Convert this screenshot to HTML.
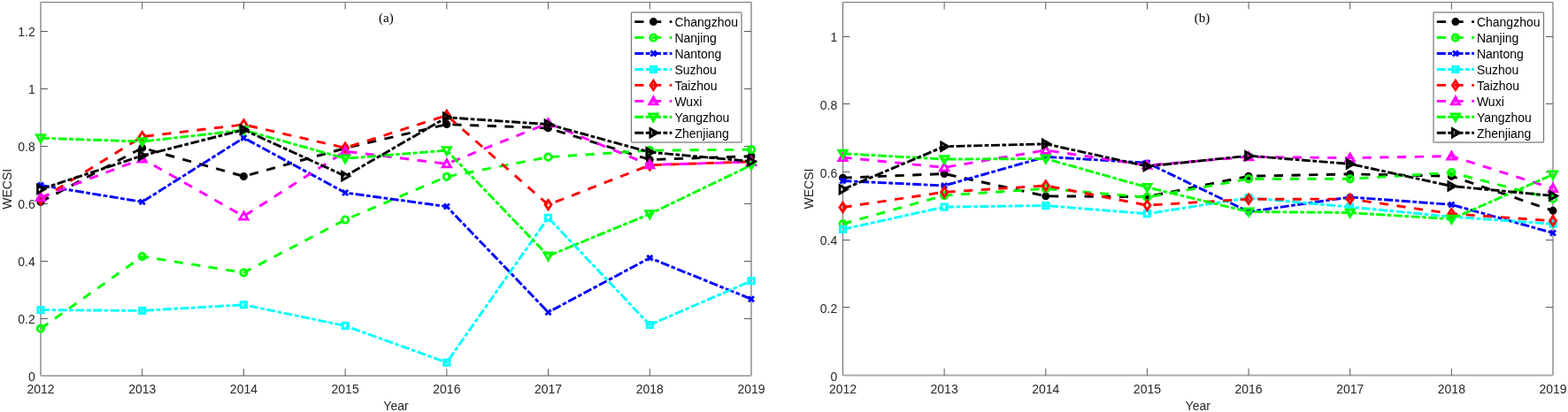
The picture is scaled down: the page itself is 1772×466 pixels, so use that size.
<!DOCTYPE html>
<html><head><meta charset="utf-8"><title>WECSI</title>
<style>
html,body{margin:0;padding:0;background:#fff;}
body{width:1772px;height:466px;overflow:hidden;}
svg{display:block;}
.t{font-family:"Liberation Sans",Arial,sans-serif;font-size:14px;fill:#262626;}
.lg{font-family:"Liberation Sans",Arial,sans-serif;font-size:14px;fill:#000;}
.ttl{font-family:"Liberation Serif","Times New Roman",serif;font-size:15px;fill:#000;}
</style></head>
<body>
<svg width="1772" height="466" viewBox="0 0 1772 466">
<rect width="1772" height="466" fill="#fff"/>
<clipPath id="clip0"><rect x="46.0" y="2.5" width="803.0" height="422.5"/></clipPath>
<line x1="46.0" y1="2.5" x2="46.0" y2="425.0" stroke="#ababab" stroke-width="2"/>
<line x1="849.0" y1="2.5" x2="849.0" y2="425.0" stroke="#ababab" stroke-width="2"/>
<line x1="46.0" y1="2.5" x2="849.0" y2="2.5" stroke="#767676" stroke-width="1.2"/>
<line x1="46.0" y1="425.0" x2="849.0" y2="425.0" stroke="#ababab" stroke-width="2"/>
<path d="M160.71,425.0V417.0M160.71,2.5V10.5M275.43,425.0V417.0M275.43,2.5V10.5M390.14,425.0V417.0M390.14,2.5V10.5M504.86,425.0V417.0M504.86,2.5V10.5M619.57,425.0V417.0M619.57,2.5V10.5M734.29,425.0V417.0M734.29,2.5V10.5M46.0,360.50H54.0M849.0,360.50H841.0M46.0,295.50H54.0M849.0,295.50H841.0M46.0,230.50H54.0M849.0,230.50H841.0M46.0,165.50H54.0M849.0,165.50H841.0M46.0,100.50H54.0M849.0,100.50H841.0M46.0,35.50H54.0M849.0,35.50H841.0" stroke="#5a5a5a" stroke-width="1" fill="none"/>
<text x="46.00" y="445" text-anchor="middle" class="t">2012</text>
<text x="160.71" y="445" text-anchor="middle" class="t">2013</text>
<text x="275.43" y="445" text-anchor="middle" class="t">2014</text>
<text x="390.14" y="445" text-anchor="middle" class="t">2015</text>
<text x="504.86" y="445" text-anchor="middle" class="t">2016</text>
<text x="619.57" y="445" text-anchor="middle" class="t">2017</text>
<text x="734.29" y="445" text-anchor="middle" class="t">2018</text>
<text x="849.00" y="445" text-anchor="middle" class="t">2019</text>
<text x="39.80" y="431.00" text-anchor="end" class="t">0</text>
<text x="39.80" y="366.00" text-anchor="end" class="t">0.2</text>
<text x="39.80" y="301.00" text-anchor="end" class="t">0.4</text>
<text x="39.80" y="236.00" text-anchor="end" class="t">0.6</text>
<text x="39.80" y="171.00" text-anchor="end" class="t">0.8</text>
<text x="39.80" y="106.00" text-anchor="end" class="t">1</text>
<text x="39.80" y="41.00" text-anchor="end" class="t">1.2</text>
<text x="447.50" y="463.5" text-anchor="middle" class="t">Year</text>
<text transform="translate(12.90,213.75) rotate(-90)" text-anchor="middle" class="t">WECSI</text>
<text x="436.40" y="24.8" text-anchor="middle" class="ttl">(a)</text>
<polyline points="46.00,228.38 160.71,167.27 275.43,199.45 390.14,167.60 504.86,140.62 619.57,144.85 734.29,180.60 849.00,176.70" fill="none" stroke="#000000" stroke-width="2.9" stroke-dasharray="10.2 9.5" clip-path="url(#clip0)"/>
<circle cx="46.00" cy="228.38" r="3.4" fill="#000000" stroke="#000000" stroke-width="2.2"/>
<circle cx="160.71" cy="167.27" r="3.4" fill="#000000" stroke="#000000" stroke-width="2.2"/>
<circle cx="275.43" cy="199.45" r="3.4" fill="#000000" stroke="#000000" stroke-width="2.2"/>
<circle cx="390.14" cy="167.60" r="3.4" fill="#000000" stroke="#000000" stroke-width="2.2"/>
<circle cx="504.86" cy="140.62" r="3.4" fill="#000000" stroke="#000000" stroke-width="2.2"/>
<circle cx="619.57" cy="144.85" r="3.4" fill="#000000" stroke="#000000" stroke-width="2.2"/>
<circle cx="734.29" cy="180.60" r="3.4" fill="#000000" stroke="#000000" stroke-width="2.2"/>
<circle cx="849.00" cy="176.70" r="3.4" fill="#000000" stroke="#000000" stroke-width="2.2"/>
<polyline points="46.00,371.70 160.71,290.12 275.43,308.32 390.14,248.52 504.86,199.78 619.57,177.67 734.29,170.20 849.00,169.22" fill="none" stroke="#00ff00" stroke-width="2.9" stroke-dasharray="10.2 9.5" clip-path="url(#clip0)"/>
<circle cx="46.00" cy="371.70" r="3.7" fill="none" stroke="#00ff00" stroke-width="2.8"/>
<circle cx="160.71" cy="290.12" r="3.7" fill="none" stroke="#00ff00" stroke-width="2.8"/>
<circle cx="275.43" cy="308.32" r="3.7" fill="none" stroke="#00ff00" stroke-width="2.8"/>
<circle cx="390.14" cy="248.52" r="3.7" fill="none" stroke="#00ff00" stroke-width="2.8"/>
<circle cx="504.86" cy="199.78" r="3.7" fill="none" stroke="#00ff00" stroke-width="2.8"/>
<circle cx="619.57" cy="177.67" r="3.7" fill="none" stroke="#00ff00" stroke-width="2.8"/>
<circle cx="734.29" cy="170.20" r="3.7" fill="none" stroke="#00ff00" stroke-width="2.8"/>
<circle cx="849.00" cy="169.22" r="3.7" fill="none" stroke="#00ff00" stroke-width="2.8"/>
<polyline points="46.00,209.52 160.71,228.38 275.43,155.90 390.14,217.97 504.86,233.58 619.57,353.18 734.29,291.75 849.00,338.23" fill="none" stroke="#0000ff" stroke-width="2.9" stroke-dasharray="10.0 2.5 4.7 2.5" clip-path="url(#clip0)"/>
<path d="M43.00,206.52L49.00,212.52M43.00,212.52L49.00,206.52" fill="none" stroke="#0000ff" stroke-width="2.8"/>
<path d="M157.71,225.38L163.71,231.38M157.71,231.38L163.71,225.38" fill="none" stroke="#0000ff" stroke-width="2.8"/>
<path d="M272.43,152.90L278.43,158.90M272.43,158.90L278.43,152.90" fill="none" stroke="#0000ff" stroke-width="2.8"/>
<path d="M387.14,214.97L393.14,220.97M387.14,220.97L393.14,214.97" fill="none" stroke="#0000ff" stroke-width="2.8"/>
<path d="M501.86,230.58L507.86,236.58M501.86,236.58L507.86,230.58" fill="none" stroke="#0000ff" stroke-width="2.8"/>
<path d="M616.57,350.18L622.57,356.18M616.57,356.18L622.57,350.18" fill="none" stroke="#0000ff" stroke-width="2.8"/>
<path d="M731.29,288.75L737.29,294.75M731.29,294.75L737.29,288.75" fill="none" stroke="#0000ff" stroke-width="2.8"/>
<path d="M846.00,335.23L852.00,341.23M846.00,341.23L852.00,335.23" fill="none" stroke="#0000ff" stroke-width="2.8"/>
<polyline points="46.00,350.57 160.71,351.39 275.43,344.73 390.14,368.45 504.86,410.05 619.57,246.25 734.29,367.48 849.00,317.75" fill="none" stroke="#00ffff" stroke-width="2.9" stroke-dasharray="10.0 2.5 4.7 2.5" clip-path="url(#clip0)"/>
<rect x="42.85" y="347.43" width="6.30" height="6.30" fill="none" stroke="#00ffff" stroke-width="2.8"/>
<rect x="157.56" y="348.24" width="6.30" height="6.30" fill="none" stroke="#00ffff" stroke-width="2.8"/>
<rect x="272.28" y="341.58" width="6.30" height="6.30" fill="none" stroke="#00ffff" stroke-width="2.8"/>
<rect x="386.99" y="365.30" width="6.30" height="6.30" fill="none" stroke="#00ffff" stroke-width="2.8"/>
<rect x="501.71" y="406.90" width="6.30" height="6.30" fill="none" stroke="#00ffff" stroke-width="2.8"/>
<rect x="616.42" y="243.10" width="6.30" height="6.30" fill="none" stroke="#00ffff" stroke-width="2.8"/>
<rect x="731.14" y="364.33" width="6.30" height="6.30" fill="none" stroke="#00ffff" stroke-width="2.8"/>
<rect x="845.85" y="314.60" width="6.30" height="6.30" fill="none" stroke="#00ffff" stroke-width="2.8"/>
<polyline points="46.00,225.45 160.71,154.60 275.43,140.95 390.14,167.27 504.86,130.55 619.57,231.62 734.29,186.78 849.00,182.88" fill="none" stroke="#ff0000" stroke-width="2.9" stroke-dasharray="10.2 9.5" clip-path="url(#clip0)"/>
<polygon points="46.00,220.25 49.50,225.45 46.00,230.65 42.50,225.45" fill="none" stroke="#ff0000" stroke-width="2.8" stroke-linejoin="miter" stroke-miterlimit="10"/>
<polygon points="160.71,149.40 164.21,154.60 160.71,159.80 157.21,154.60" fill="none" stroke="#ff0000" stroke-width="2.8" stroke-linejoin="miter" stroke-miterlimit="10"/>
<polygon points="275.43,135.75 278.93,140.95 275.43,146.15 271.93,140.95" fill="none" stroke="#ff0000" stroke-width="2.8" stroke-linejoin="miter" stroke-miterlimit="10"/>
<polygon points="390.14,162.07 393.64,167.27 390.14,172.47 386.64,167.27" fill="none" stroke="#ff0000" stroke-width="2.8" stroke-linejoin="miter" stroke-miterlimit="10"/>
<polygon points="504.86,125.35 508.36,130.55 504.86,135.75 501.36,130.55" fill="none" stroke="#ff0000" stroke-width="2.8" stroke-linejoin="miter" stroke-miterlimit="10"/>
<polygon points="619.57,226.43 623.07,231.62 619.57,236.82 616.07,231.62" fill="none" stroke="#ff0000" stroke-width="2.8" stroke-linejoin="miter" stroke-miterlimit="10"/>
<polygon points="734.29,181.58 737.79,186.78 734.29,191.97 730.79,186.78" fill="none" stroke="#ff0000" stroke-width="2.8" stroke-linejoin="miter" stroke-miterlimit="10"/>
<polygon points="849.00,177.68 852.50,182.88 849.00,188.07 845.50,182.88" fill="none" stroke="#ff0000" stroke-width="2.8" stroke-linejoin="miter" stroke-miterlimit="10"/>
<polyline points="46.00,223.18 160.71,179.62 275.43,244.62 390.14,171.17 504.86,185.31 619.57,139.32 734.29,186.45 849.00,183.20" fill="none" stroke="#ff00ff" stroke-width="2.9" stroke-dasharray="10.2 9.5" clip-path="url(#clip0)"/>
<polygon points="46.00,218.58 50.60,226.68 41.40,226.68" fill="none" stroke="#ff00ff" stroke-width="2.8" stroke-linejoin="miter" stroke-miterlimit="10"/>
<polygon points="160.71,175.03 165.31,183.12 156.11,183.12" fill="none" stroke="#ff00ff" stroke-width="2.8" stroke-linejoin="miter" stroke-miterlimit="10"/>
<polygon points="275.43,240.02 280.03,248.12 270.83,248.12" fill="none" stroke="#ff00ff" stroke-width="2.8" stroke-linejoin="miter" stroke-miterlimit="10"/>
<polygon points="390.14,166.57 394.74,174.67 385.54,174.67" fill="none" stroke="#ff00ff" stroke-width="2.8" stroke-linejoin="miter" stroke-miterlimit="10"/>
<polygon points="504.86,180.71 509.46,188.81 500.26,188.81" fill="none" stroke="#ff00ff" stroke-width="2.8" stroke-linejoin="miter" stroke-miterlimit="10"/>
<polygon points="619.57,134.72 624.17,142.82 614.97,142.82" fill="none" stroke="#ff00ff" stroke-width="2.8" stroke-linejoin="miter" stroke-miterlimit="10"/>
<polygon points="734.29,181.85 738.89,189.95 729.69,189.95" fill="none" stroke="#ff00ff" stroke-width="2.8" stroke-linejoin="miter" stroke-miterlimit="10"/>
<polygon points="849.00,178.60 853.60,186.70 844.40,186.70" fill="none" stroke="#ff00ff" stroke-width="2.8" stroke-linejoin="miter" stroke-miterlimit="10"/>
<polyline points="46.00,156.23 160.71,160.12 275.43,147.12 390.14,179.30 504.86,170.20 619.57,289.48 734.29,242.03 849.00,186.78" fill="none" stroke="#00ff00" stroke-width="2.9" stroke-dasharray="10.0 2.5 4.7 2.5" clip-path="url(#clip0)"/>
<polygon points="46.00,160.83 50.60,152.73 41.40,152.73" fill="none" stroke="#00ff00" stroke-width="2.8" stroke-linejoin="miter" stroke-miterlimit="10"/>
<polygon points="160.71,164.72 165.31,156.62 156.11,156.62" fill="none" stroke="#00ff00" stroke-width="2.8" stroke-linejoin="miter" stroke-miterlimit="10"/>
<polygon points="275.43,151.72 280.03,143.62 270.83,143.62" fill="none" stroke="#00ff00" stroke-width="2.8" stroke-linejoin="miter" stroke-miterlimit="10"/>
<polygon points="390.14,183.90 394.74,175.80 385.54,175.80" fill="none" stroke="#00ff00" stroke-width="2.8" stroke-linejoin="miter" stroke-miterlimit="10"/>
<polygon points="504.86,174.80 509.46,166.70 500.26,166.70" fill="none" stroke="#00ff00" stroke-width="2.8" stroke-linejoin="miter" stroke-miterlimit="10"/>
<polygon points="619.57,294.08 624.17,285.98 614.97,285.98" fill="none" stroke="#00ff00" stroke-width="2.8" stroke-linejoin="miter" stroke-miterlimit="10"/>
<polygon points="734.29,246.62 738.89,238.53 729.69,238.53" fill="none" stroke="#00ff00" stroke-width="2.8" stroke-linejoin="miter" stroke-miterlimit="10"/>
<polygon points="849.00,191.38 853.60,183.28 844.40,183.28" fill="none" stroke="#00ff00" stroke-width="2.8" stroke-linejoin="miter" stroke-miterlimit="10"/>
<polyline points="46.00,214.07 160.71,176.05 275.43,146.80 390.14,199.13 504.86,132.82 619.57,140.62 734.29,172.15 849.00,182.55" fill="none" stroke="#000000" stroke-width="2.9" stroke-dasharray="10.0 2.5 4.7 2.5" clip-path="url(#clip0)"/>
<polygon points="50.60,214.07 42.50,209.47 42.50,218.67" fill="none" stroke="#000000" stroke-width="2.8" stroke-linejoin="miter" stroke-miterlimit="10"/>
<polygon points="165.31,176.05 157.21,171.45 157.21,180.65" fill="none" stroke="#000000" stroke-width="2.8" stroke-linejoin="miter" stroke-miterlimit="10"/>
<polygon points="280.03,146.80 271.93,142.20 271.93,151.40" fill="none" stroke="#000000" stroke-width="2.8" stroke-linejoin="miter" stroke-miterlimit="10"/>
<polygon points="394.74,199.13 386.64,194.53 386.64,203.73" fill="none" stroke="#000000" stroke-width="2.8" stroke-linejoin="miter" stroke-miterlimit="10"/>
<polygon points="509.46,132.82 501.36,128.22 501.36,137.42" fill="none" stroke="#000000" stroke-width="2.8" stroke-linejoin="miter" stroke-miterlimit="10"/>
<polygon points="624.17,140.62 616.07,136.03 616.07,145.22" fill="none" stroke="#000000" stroke-width="2.8" stroke-linejoin="miter" stroke-miterlimit="10"/>
<polygon points="738.89,172.15 730.79,167.55 730.79,176.75" fill="none" stroke="#000000" stroke-width="2.8" stroke-linejoin="miter" stroke-miterlimit="10"/>
<polygon points="853.60,182.55 845.50,177.95 845.50,187.15" fill="none" stroke="#000000" stroke-width="2.8" stroke-linejoin="miter" stroke-miterlimit="10"/>
<rect x="713.5" y="14.0" width="124.5" height="147.0" fill="#fff"/>
<line x1="713.5" y1="14.0" x2="713.5" y2="161.0" stroke="#767676" stroke-width="1.2"/>
<line x1="838.0" y1="14.0" x2="838.0" y2="161.0" stroke="#ababab" stroke-width="2"/>
<line x1="713.5" y1="14.0" x2="838.0" y2="14.0" stroke="#ababab" stroke-width="2"/>
<line x1="713.5" y1="161.0" x2="838.0" y2="161.0" stroke="#ababab" stroke-width="2"/>
<line x1="717.30" y1="24.60" x2="759.40" y2="24.60" stroke="#000000" stroke-width="2.9" stroke-dasharray="10.2 9.5"/>
<circle cx="738.40" cy="24.60" r="3.4" fill="#000000" stroke="#000000" stroke-width="2.2"/>
<text x="762.40" y="30.10" class="lg">Changzhou</text>
<line x1="717.30" y1="42.55" x2="759.40" y2="42.55" stroke="#00ff00" stroke-width="2.9" stroke-dasharray="10.2 9.5"/>
<circle cx="738.40" cy="42.55" r="3.7" fill="none" stroke="#00ff00" stroke-width="2.8"/>
<text x="762.40" y="48.05" class="lg">Nanjing</text>
<line x1="717.30" y1="60.50" x2="759.40" y2="60.50" stroke="#0000ff" stroke-width="2.9" stroke-dasharray="10.0 2.5 4.7 2.5"/>
<path d="M735.40,57.50L741.40,63.50M735.40,63.50L741.40,57.50" fill="none" stroke="#0000ff" stroke-width="2.8"/>
<text x="762.40" y="66.00" class="lg">Nantong</text>
<line x1="717.30" y1="78.45" x2="759.40" y2="78.45" stroke="#00ffff" stroke-width="2.9" stroke-dasharray="10.0 2.5 4.7 2.5"/>
<rect x="735.25" y="75.30" width="6.30" height="6.30" fill="none" stroke="#00ffff" stroke-width="2.8"/>
<text x="762.40" y="83.95" class="lg">Suzhou</text>
<line x1="717.30" y1="96.40" x2="759.40" y2="96.40" stroke="#ff0000" stroke-width="2.9" stroke-dasharray="10.2 9.5"/>
<polygon points="738.40,91.20 741.90,96.40 738.40,101.60 734.90,96.40" fill="none" stroke="#ff0000" stroke-width="2.8" stroke-linejoin="miter" stroke-miterlimit="10"/>
<text x="762.40" y="101.90" class="lg">Taizhou</text>
<line x1="717.30" y1="114.35" x2="759.40" y2="114.35" stroke="#ff00ff" stroke-width="2.9" stroke-dasharray="10.2 9.5"/>
<polygon points="738.40,109.75 743.00,117.85 733.80,117.85" fill="none" stroke="#ff00ff" stroke-width="2.8" stroke-linejoin="miter" stroke-miterlimit="10"/>
<text x="762.40" y="119.85" class="lg">Wuxi</text>
<line x1="717.30" y1="132.30" x2="759.40" y2="132.30" stroke="#00ff00" stroke-width="2.9" stroke-dasharray="10.0 2.5 4.7 2.5"/>
<polygon points="738.40,136.90 743.00,128.80 733.80,128.80" fill="none" stroke="#00ff00" stroke-width="2.8" stroke-linejoin="miter" stroke-miterlimit="10"/>
<text x="762.40" y="137.80" class="lg">Yangzhou</text>
<line x1="717.30" y1="150.25" x2="759.40" y2="150.25" stroke="#000000" stroke-width="2.9" stroke-dasharray="10.0 2.5 4.7 2.5"/>
<polygon points="743.00,150.25 734.90,145.65 734.90,154.85" fill="none" stroke="#000000" stroke-width="2.8" stroke-linejoin="miter" stroke-miterlimit="10"/>
<text x="762.40" y="155.75" class="lg">Zhenjiang</text>
<clipPath id="clip1"><rect x="952.5" y="2.5" width="802.5" height="422.1"/></clipPath>
<line x1="952.5" y1="2.5" x2="952.5" y2="424.6" stroke="#767676" stroke-width="1.2"/>
<line x1="1755.0" y1="2.5" x2="1755.0" y2="424.6" stroke="#ababab" stroke-width="2"/>
<line x1="952.5" y1="2.5" x2="1755.0" y2="2.5" stroke="#767676" stroke-width="1.2"/>
<line x1="952.5" y1="424.6" x2="1755.0" y2="424.6" stroke="#ababab" stroke-width="2"/>
<path d="M1067.14,424.6V416.6M1067.14,2.5V10.5M1181.79,424.6V416.6M1181.79,2.5V10.5M1296.43,424.6V416.6M1296.43,2.5V10.5M1411.07,424.6V416.6M1411.07,2.5V10.5M1525.71,424.6V416.6M1525.71,2.5V10.5M1640.36,424.6V416.6M1640.36,2.5V10.5M952.5,347.50H960.5M1755.0,347.50H1747.0M952.5,271.50H960.5M1755.0,271.50H1747.0M952.5,194.50H960.5M1755.0,194.50H1747.0M952.5,117.50H960.5M1755.0,117.50H1747.0M952.5,41.50H960.5M1755.0,41.50H1747.0" stroke="#5a5a5a" stroke-width="1" fill="none"/>
<text x="952.50" y="445" text-anchor="middle" class="t">2012</text>
<text x="1067.14" y="445" text-anchor="middle" class="t">2013</text>
<text x="1181.79" y="445" text-anchor="middle" class="t">2014</text>
<text x="1296.43" y="445" text-anchor="middle" class="t">2015</text>
<text x="1411.07" y="445" text-anchor="middle" class="t">2016</text>
<text x="1525.71" y="445" text-anchor="middle" class="t">2017</text>
<text x="1640.36" y="445" text-anchor="middle" class="t">2018</text>
<text x="1755.00" y="445" text-anchor="middle" class="t">2019</text>
<text x="946.30" y="430.60" text-anchor="end" class="t">0</text>
<text x="946.30" y="353.94" text-anchor="end" class="t">0.2</text>
<text x="946.30" y="277.28" text-anchor="end" class="t">0.4</text>
<text x="946.30" y="200.62" text-anchor="end" class="t">0.6</text>
<text x="946.30" y="123.96" text-anchor="end" class="t">0.8</text>
<text x="946.30" y="47.30" text-anchor="end" class="t">1</text>
<text x="1353.75" y="463.5" text-anchor="middle" class="t">Year</text>
<text transform="translate(919.40,213.55) rotate(-90)" text-anchor="middle" class="t">WECSI</text>
<text x="1358.60" y="24.8" text-anchor="middle" class="ttl">(b)</text>
<polyline points="952.50,201.14 1067.14,196.54 1181.79,221.83 1296.43,222.60 1411.07,199.22 1525.71,196.92 1640.36,199.22 1755.00,238.32" fill="none" stroke="#000000" stroke-width="2.9" stroke-dasharray="10.2 9.5" clip-path="url(#clip1)"/>
<circle cx="952.50" cy="201.14" r="3.4" fill="#000000" stroke="#000000" stroke-width="2.2"/>
<circle cx="1067.14" cy="196.54" r="3.4" fill="#000000" stroke="#000000" stroke-width="2.2"/>
<circle cx="1181.79" cy="221.83" r="3.4" fill="#000000" stroke="#000000" stroke-width="2.2"/>
<circle cx="1296.43" cy="222.60" r="3.4" fill="#000000" stroke="#000000" stroke-width="2.2"/>
<circle cx="1411.07" cy="199.22" r="3.4" fill="#000000" stroke="#000000" stroke-width="2.2"/>
<circle cx="1525.71" cy="196.92" r="3.4" fill="#000000" stroke="#000000" stroke-width="2.2"/>
<circle cx="1640.36" cy="199.22" r="3.4" fill="#000000" stroke="#000000" stroke-width="2.2"/>
<circle cx="1755.00" cy="238.32" r="3.4" fill="#000000" stroke="#000000" stroke-width="2.2"/>
<polyline points="952.50,253.26 1067.14,221.07 1181.79,213.40 1296.43,223.18 1411.07,202.29 1525.71,202.29 1640.36,195.19 1755.00,224.90" fill="none" stroke="#00ff00" stroke-width="2.9" stroke-dasharray="10.2 9.5" clip-path="url(#clip1)"/>
<circle cx="952.50" cy="253.26" r="3.7" fill="none" stroke="#00ff00" stroke-width="2.8"/>
<circle cx="1067.14" cy="221.07" r="3.7" fill="none" stroke="#00ff00" stroke-width="2.8"/>
<circle cx="1181.79" cy="213.40" r="3.7" fill="none" stroke="#00ff00" stroke-width="2.8"/>
<circle cx="1296.43" cy="223.18" r="3.7" fill="none" stroke="#00ff00" stroke-width="2.8"/>
<circle cx="1411.07" cy="202.29" r="3.7" fill="none" stroke="#00ff00" stroke-width="2.8"/>
<circle cx="1525.71" cy="202.29" r="3.7" fill="none" stroke="#00ff00" stroke-width="2.8"/>
<circle cx="1640.36" cy="195.19" r="3.7" fill="none" stroke="#00ff00" stroke-width="2.8"/>
<circle cx="1755.00" cy="224.90" r="3.7" fill="none" stroke="#00ff00" stroke-width="2.8"/>
<polyline points="952.50,204.59 1067.14,209.95 1181.79,177.37 1296.43,184.27 1411.07,239.47 1525.71,222.98 1640.36,231.42 1755.00,263.42" fill="none" stroke="#0000ff" stroke-width="2.9" stroke-dasharray="10.0 2.5 4.7 2.5" clip-path="url(#clip1)"/>
<path d="M949.50,201.59L955.50,207.59M949.50,207.59L955.50,201.59" fill="none" stroke="#0000ff" stroke-width="2.8"/>
<path d="M1064.14,206.95L1070.14,212.95M1064.14,212.95L1070.14,206.95" fill="none" stroke="#0000ff" stroke-width="2.8"/>
<path d="M1178.79,174.37L1184.79,180.37M1178.79,180.37L1184.79,174.37" fill="none" stroke="#0000ff" stroke-width="2.8"/>
<path d="M1293.43,181.27L1299.43,187.27M1293.43,187.27L1299.43,181.27" fill="none" stroke="#0000ff" stroke-width="2.8"/>
<path d="M1408.07,236.47L1414.07,242.47M1408.07,242.47L1414.07,236.47" fill="none" stroke="#0000ff" stroke-width="2.8"/>
<path d="M1522.71,219.98L1528.71,225.98M1522.71,225.98L1528.71,219.98" fill="none" stroke="#0000ff" stroke-width="2.8"/>
<path d="M1637.36,228.42L1643.36,234.42M1637.36,234.42L1643.36,228.42" fill="none" stroke="#0000ff" stroke-width="2.8"/>
<path d="M1752.00,260.42L1758.00,266.42M1752.00,266.42L1758.00,260.42" fill="none" stroke="#0000ff" stroke-width="2.8"/>
<polyline points="952.50,259.40 1067.14,234.10 1181.79,232.57 1296.43,241.77 1411.07,223.75 1525.71,234.10 1640.36,245.22 1755.00,253.26" fill="none" stroke="#00ffff" stroke-width="2.9" stroke-dasharray="10.0 2.5 4.7 2.5" clip-path="url(#clip1)"/>
<rect x="949.35" y="256.25" width="6.30" height="6.30" fill="none" stroke="#00ffff" stroke-width="2.8"/>
<rect x="1063.99" y="230.95" width="6.30" height="6.30" fill="none" stroke="#00ffff" stroke-width="2.8"/>
<rect x="1178.64" y="229.42" width="6.30" height="6.30" fill="none" stroke="#00ffff" stroke-width="2.8"/>
<rect x="1293.28" y="238.62" width="6.30" height="6.30" fill="none" stroke="#00ffff" stroke-width="2.8"/>
<rect x="1407.92" y="220.60" width="6.30" height="6.30" fill="none" stroke="#00ffff" stroke-width="2.8"/>
<rect x="1522.56" y="230.95" width="6.30" height="6.30" fill="none" stroke="#00ffff" stroke-width="2.8"/>
<rect x="1637.21" y="242.07" width="6.30" height="6.30" fill="none" stroke="#00ffff" stroke-width="2.8"/>
<rect x="1751.85" y="250.11" width="6.30" height="6.30" fill="none" stroke="#00ffff" stroke-width="2.8"/>
<polyline points="952.50,234.48 1067.14,217.23 1181.79,209.95 1296.43,232.18 1411.07,225.28 1525.71,225.09 1640.36,241.77 1755.00,249.82" fill="none" stroke="#ff0000" stroke-width="2.9" stroke-dasharray="10.2 9.5" clip-path="url(#clip1)"/>
<polygon points="952.50,229.28 956.00,234.48 952.50,239.68 949.00,234.48" fill="none" stroke="#ff0000" stroke-width="2.8" stroke-linejoin="miter" stroke-miterlimit="10"/>
<polygon points="1067.14,212.03 1070.64,217.23 1067.14,222.43 1063.64,217.23" fill="none" stroke="#ff0000" stroke-width="2.8" stroke-linejoin="miter" stroke-miterlimit="10"/>
<polygon points="1181.79,204.75 1185.29,209.95 1181.79,215.15 1178.29,209.95" fill="none" stroke="#ff0000" stroke-width="2.8" stroke-linejoin="miter" stroke-miterlimit="10"/>
<polygon points="1296.43,226.98 1299.93,232.18 1296.43,237.38 1292.93,232.18" fill="none" stroke="#ff0000" stroke-width="2.8" stroke-linejoin="miter" stroke-miterlimit="10"/>
<polygon points="1411.07,220.08 1414.57,225.28 1411.07,230.48 1407.57,225.28" fill="none" stroke="#ff0000" stroke-width="2.8" stroke-linejoin="miter" stroke-miterlimit="10"/>
<polygon points="1525.71,219.89 1529.21,225.09 1525.71,230.29 1522.21,225.09" fill="none" stroke="#ff0000" stroke-width="2.8" stroke-linejoin="miter" stroke-miterlimit="10"/>
<polygon points="1640.36,236.57 1643.86,241.77 1640.36,246.97 1636.86,241.77" fill="none" stroke="#ff0000" stroke-width="2.8" stroke-linejoin="miter" stroke-miterlimit="10"/>
<polygon points="1755.00,244.62 1758.50,249.82 1755.00,255.02 1751.50,249.82" fill="none" stroke="#ff0000" stroke-width="2.8" stroke-linejoin="miter" stroke-miterlimit="10"/>
<polyline points="952.50,178.14 1067.14,189.41 1181.79,169.90 1296.43,186.95 1411.07,177.37 1525.71,178.67 1640.36,176.60 1755.00,213.02" fill="none" stroke="#ff00ff" stroke-width="2.9" stroke-dasharray="10.2 9.5" clip-path="url(#clip1)"/>
<polygon points="952.50,173.54 957.10,181.64 947.90,181.64" fill="none" stroke="#ff00ff" stroke-width="2.8" stroke-linejoin="miter" stroke-miterlimit="10"/>
<polygon points="1067.14,184.81 1071.74,192.91 1062.54,192.91" fill="none" stroke="#ff00ff" stroke-width="2.8" stroke-linejoin="miter" stroke-miterlimit="10"/>
<polygon points="1181.79,165.30 1186.39,173.40 1177.19,173.40" fill="none" stroke="#ff00ff" stroke-width="2.8" stroke-linejoin="miter" stroke-miterlimit="10"/>
<polygon points="1296.43,182.35 1301.03,190.45 1291.83,190.45" fill="none" stroke="#ff00ff" stroke-width="2.8" stroke-linejoin="miter" stroke-miterlimit="10"/>
<polygon points="1411.07,172.77 1415.67,180.87 1406.47,180.87" fill="none" stroke="#ff00ff" stroke-width="2.8" stroke-linejoin="miter" stroke-miterlimit="10"/>
<polygon points="1525.71,174.07 1530.31,182.17 1521.11,182.17" fill="none" stroke="#ff00ff" stroke-width="2.8" stroke-linejoin="miter" stroke-miterlimit="10"/>
<polygon points="1640.36,172.00 1644.96,180.10 1635.76,180.10" fill="none" stroke="#ff00ff" stroke-width="2.8" stroke-linejoin="miter" stroke-miterlimit="10"/>
<polygon points="1755.00,208.42 1759.60,216.52 1750.40,216.52" fill="none" stroke="#ff00ff" stroke-width="2.8" stroke-linejoin="miter" stroke-miterlimit="10"/>
<polyline points="952.50,173.73 1067.14,180.05 1181.79,179.52 1296.43,211.87 1411.07,239.47 1525.71,240.62 1640.36,247.71 1755.00,197.38" fill="none" stroke="#00ff00" stroke-width="2.9" stroke-dasharray="10.0 2.5 4.7 2.5" clip-path="url(#clip1)"/>
<polygon points="952.50,178.33 957.10,170.23 947.90,170.23" fill="none" stroke="#00ff00" stroke-width="2.8" stroke-linejoin="miter" stroke-miterlimit="10"/>
<polygon points="1067.14,184.65 1071.74,176.55 1062.54,176.55" fill="none" stroke="#00ff00" stroke-width="2.8" stroke-linejoin="miter" stroke-miterlimit="10"/>
<polygon points="1181.79,184.12 1186.39,176.02 1177.19,176.02" fill="none" stroke="#00ff00" stroke-width="2.8" stroke-linejoin="miter" stroke-miterlimit="10"/>
<polygon points="1296.43,216.47 1301.03,208.37 1291.83,208.37" fill="none" stroke="#00ff00" stroke-width="2.8" stroke-linejoin="miter" stroke-miterlimit="10"/>
<polygon points="1411.07,244.07 1415.67,235.97 1406.47,235.97" fill="none" stroke="#00ff00" stroke-width="2.8" stroke-linejoin="miter" stroke-miterlimit="10"/>
<polygon points="1525.71,245.22 1530.31,237.12 1521.11,237.12" fill="none" stroke="#00ff00" stroke-width="2.8" stroke-linejoin="miter" stroke-miterlimit="10"/>
<polygon points="1640.36,252.31 1644.96,244.21 1635.76,244.21" fill="none" stroke="#00ff00" stroke-width="2.8" stroke-linejoin="miter" stroke-miterlimit="10"/>
<polygon points="1755.00,201.98 1759.60,193.88 1750.40,193.88" fill="none" stroke="#00ff00" stroke-width="2.8" stroke-linejoin="miter" stroke-miterlimit="10"/>
<polyline points="952.50,214.17 1067.14,165.68 1181.79,162.81 1296.43,188.10 1411.07,176.22 1525.71,185.42 1640.36,210.49 1755.00,221.45" fill="none" stroke="#000000" stroke-width="2.9" stroke-dasharray="10.0 2.5 4.7 2.5" clip-path="url(#clip1)"/>
<polygon points="957.10,214.17 949.00,209.57 949.00,218.77" fill="none" stroke="#000000" stroke-width="2.8" stroke-linejoin="miter" stroke-miterlimit="10"/>
<polygon points="1071.74,165.68 1063.64,161.08 1063.64,170.28" fill="none" stroke="#000000" stroke-width="2.8" stroke-linejoin="miter" stroke-miterlimit="10"/>
<polygon points="1186.39,162.81 1178.29,158.21 1178.29,167.41" fill="none" stroke="#000000" stroke-width="2.8" stroke-linejoin="miter" stroke-miterlimit="10"/>
<polygon points="1301.03,188.10 1292.93,183.50 1292.93,192.70" fill="none" stroke="#000000" stroke-width="2.8" stroke-linejoin="miter" stroke-miterlimit="10"/>
<polygon points="1415.67,176.22 1407.57,171.62 1407.57,180.82" fill="none" stroke="#000000" stroke-width="2.8" stroke-linejoin="miter" stroke-miterlimit="10"/>
<polygon points="1530.31,185.42 1522.21,180.82 1522.21,190.02" fill="none" stroke="#000000" stroke-width="2.8" stroke-linejoin="miter" stroke-miterlimit="10"/>
<polygon points="1644.96,210.49 1636.86,205.89 1636.86,215.09" fill="none" stroke="#000000" stroke-width="2.8" stroke-linejoin="miter" stroke-miterlimit="10"/>
<polygon points="1759.60,221.45 1751.50,216.85 1751.50,226.05" fill="none" stroke="#000000" stroke-width="2.8" stroke-linejoin="miter" stroke-miterlimit="10"/>
<rect x="1620.0" y="14.0" width="124.5" height="147.0" fill="#fff"/>
<line x1="1620.0" y1="14.0" x2="1620.0" y2="161.0" stroke="#ababab" stroke-width="2"/>
<line x1="1744.5" y1="14.0" x2="1744.5" y2="161.0" stroke="#767676" stroke-width="1.2"/>
<line x1="1620.0" y1="14.0" x2="1744.5" y2="14.0" stroke="#ababab" stroke-width="2"/>
<line x1="1620.0" y1="161.0" x2="1744.5" y2="161.0" stroke="#ababab" stroke-width="2"/>
<line x1="1623.80" y1="24.60" x2="1665.90" y2="24.60" stroke="#000000" stroke-width="2.9" stroke-dasharray="10.2 9.5"/>
<circle cx="1644.90" cy="24.60" r="3.4" fill="#000000" stroke="#000000" stroke-width="2.2"/>
<text x="1668.90" y="30.10" class="lg">Changzhou</text>
<line x1="1623.80" y1="42.55" x2="1665.90" y2="42.55" stroke="#00ff00" stroke-width="2.9" stroke-dasharray="10.2 9.5"/>
<circle cx="1644.90" cy="42.55" r="3.7" fill="none" stroke="#00ff00" stroke-width="2.8"/>
<text x="1668.90" y="48.05" class="lg">Nanjing</text>
<line x1="1623.80" y1="60.50" x2="1665.90" y2="60.50" stroke="#0000ff" stroke-width="2.9" stroke-dasharray="10.0 2.5 4.7 2.5"/>
<path d="M1641.90,57.50L1647.90,63.50M1641.90,63.50L1647.90,57.50" fill="none" stroke="#0000ff" stroke-width="2.8"/>
<text x="1668.90" y="66.00" class="lg">Nantong</text>
<line x1="1623.80" y1="78.45" x2="1665.90" y2="78.45" stroke="#00ffff" stroke-width="2.9" stroke-dasharray="10.0 2.5 4.7 2.5"/>
<rect x="1641.75" y="75.30" width="6.30" height="6.30" fill="none" stroke="#00ffff" stroke-width="2.8"/>
<text x="1668.90" y="83.95" class="lg">Suzhou</text>
<line x1="1623.80" y1="96.40" x2="1665.90" y2="96.40" stroke="#ff0000" stroke-width="2.9" stroke-dasharray="10.2 9.5"/>
<polygon points="1644.90,91.20 1648.40,96.40 1644.90,101.60 1641.40,96.40" fill="none" stroke="#ff0000" stroke-width="2.8" stroke-linejoin="miter" stroke-miterlimit="10"/>
<text x="1668.90" y="101.90" class="lg">Taizhou</text>
<line x1="1623.80" y1="114.35" x2="1665.90" y2="114.35" stroke="#ff00ff" stroke-width="2.9" stroke-dasharray="10.2 9.5"/>
<polygon points="1644.90,109.75 1649.50,117.85 1640.30,117.85" fill="none" stroke="#ff00ff" stroke-width="2.8" stroke-linejoin="miter" stroke-miterlimit="10"/>
<text x="1668.90" y="119.85" class="lg">Wuxi</text>
<line x1="1623.80" y1="132.30" x2="1665.90" y2="132.30" stroke="#00ff00" stroke-width="2.9" stroke-dasharray="10.0 2.5 4.7 2.5"/>
<polygon points="1644.90,136.90 1649.50,128.80 1640.30,128.80" fill="none" stroke="#00ff00" stroke-width="2.8" stroke-linejoin="miter" stroke-miterlimit="10"/>
<text x="1668.90" y="137.80" class="lg">Yangzhou</text>
<line x1="1623.80" y1="150.25" x2="1665.90" y2="150.25" stroke="#000000" stroke-width="2.9" stroke-dasharray="10.0 2.5 4.7 2.5"/>
<polygon points="1649.50,150.25 1641.40,145.65 1641.40,154.85" fill="none" stroke="#000000" stroke-width="2.8" stroke-linejoin="miter" stroke-miterlimit="10"/>
<text x="1668.90" y="155.75" class="lg">Zhenjiang</text>
</svg>
</body></html>
